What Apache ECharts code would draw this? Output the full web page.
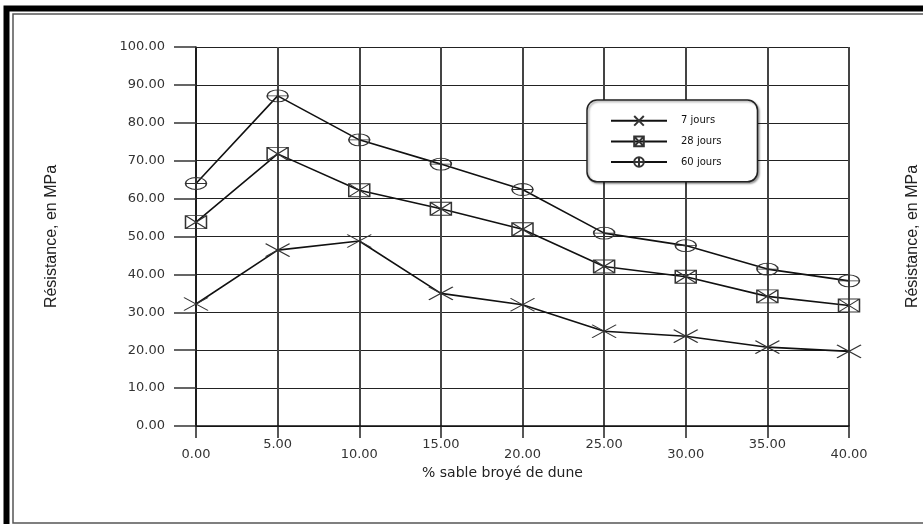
<!DOCTYPE html>
<html>
<head>
<meta charset="utf-8">
<script src="https://cdn.jsdelivr.net/npm/echarts@6/dist/echarts.min.js"></script>
<style>
html,body{margin:0;padding:0;background:#fff;}
#chart{width:923px;height:524px;}
</style>
</head>
<body>
<div id="chart"></div>
<script>
// Data
const xValues = [0, 5, 10, 15, 20, 25, 30, 35, 40];
const seriesNames = ['7 jours', '28 jours', '60 jours'];
const jours7 = [32.2, 46.4, 48.8, 35.0, 32.0, 25.0, 23.7, 20.8, 19.7];
const jours28 = [53.8, 71.8, 62.2, 57.3, 51.9, 42.1, 39.4, 34.2, 31.8];
const jours60 = [64.0, 87.1, 75.5, 69.1, 62.4, 50.9, 47.6, 41.4, 38.3];
const xAxisTitle = '% sable broyé de dune';
const yAxisTitle = 'Résistance, en MPa';

const symX = 'path://M0,0L10,10M10,0L0,10';
const symBoxX = 'path://M0,0L10,0L10,10L0,10Z M0,0L10,10 M10,0L0,10';
const symCircPlus = 'path://M0,5A5,5 0 1,1 10,5A5,5 0 1,1 0,5Z M0,5L10,5 M5,0L5,10';

function pairs(arr){ return xValues.map((x,i)=>[x, arr[i]]); }

const labelFont = 'DejaVu Sans';
const narrowFont = "'Liberation Sans Narrow', 'Liberation Sans', sans-serif";
const chart = echarts.init(document.getElementById('chart'), null, {renderer:'canvas'});

function mkSeries(name, data, symbol, size){
  return {
    name: name, type: 'line', data: pairs(data),
    symbol: symbol, symbolSize: size, showSymbol: true,
    lineStyle: {color: '#111', width: 1.6},
    itemStyle: {color: 'rgba(255,255,255,0)', borderColor: '#333', borderWidth: 1.2},
    emphasis: {disabled: true},
    z: 5
  };
}

chart.setOption({
  animation: false,
  backgroundColor: '#fff',
  grid: {left: 196, right: 74, top: 47, bottom: 98, outerBoundsMode: 'none', containLabel: false},
  legend: {
    orient: 'vertical',
    left: 587, top: 100,
    padding: [15, 36, 14, 23],
    itemWidth: 56, itemHeight: 12, itemGap: 9,
    backgroundColor: '#fff',
    borderColor: '#222', borderWidth: 1.5, borderRadius: 10,
    shadowColor: 'rgba(0,0,0,0.35)', shadowBlur: 2, shadowOffsetX: 1.5, shadowOffsetY: 1.5,
    textStyle: {fontFamily: labelFont, fontSize: 10, color: '#111', padding: [0,0,0,9]},
    data: seriesNames
  },
  xAxis: {
    type: 'value', min: 0, max: 40, interval: 5,
    name: xAxisTitle, nameLocation: 'middle', nameGap: 34,
    nameTextStyle: {fontFamily: labelFont, fontSize: 14, color: '#222', padding: [0, 40, 0, 0]},
    axisLine: {show: true, onZero: false, lineStyle: {color: '#111', width: 1.5}},
    axisTick: {show: true, length: 12, lineStyle: {color: '#222', width: 1.5}},
    axisLabel: {
      margin: 12,
      formatter: function(v, i){ return (i % 2 === 0 ? '{lo|' : '{hi|') + v.toFixed(2) + '}'; },
      rich: {
        lo: {fontFamily: labelFont, fontSize: 13, color: '#333', padding: [10,0,0,0]},
        hi: {fontFamily: labelFont, fontSize: 13, color: '#333'}
      }
    },
    splitLine: {show: true, lineStyle: {color: '#444', width: 2}}
  },
  yAxis: [{
    type: 'value', min: 0, max: 100, interval: 10,
    name: yAxisTitle, nameLocation: 'middle', nameGap: 136, nameRotate: 90,
    nameTextStyle: {fontFamily: narrowFont, fontSize: 16, color: '#222'},
    axisLine: {show: true, lineStyle: {color: '#111', width: 1.5}},
    axisTick: {show: true, length: 22, lineStyle: {color: '#333', width: 1.5}},
    axisLabel: {margin: 31, fontFamily: labelFont, fontSize: 13, color: '#333',
      formatter: function(v){ return v.toFixed(2); }},
    splitLine: {show: true, lineStyle: {color: '#222', width: 1.2}}
  }, {
    type: 'value', min: 0, max: 100, interval: 10, position: 'right',
    name: yAxisTitle, nameLocation: 'middle', nameGap: 56, nameRotate: 90,
    nameTextStyle: {fontFamily: narrowFont, fontSize: 16, color: '#222'},
    axisLine: {show: false}, axisTick: {show: false}, axisLabel: {show: false},
    splitLine: {show: false}
  }],
  graphic: [
    {type: 'rect', silent: true, z: 100,
     shape: {x: 6.5, y: 8.5, width: 1100, height: 700},
     style: {fill: 'none', stroke: '#000', lineWidth: 6}},
    {type: 'rect', silent: true, z: 100,
     shape: {x: 13, y: 14, width: 1100, height: 509},
     style: {fill: 'none', stroke: '#555', lineWidth: 1.5}}
  ],
  series: [
    mkSeries(seriesNames[0], jours7, symX, [24, 13]),
    mkSeries(seriesNames[1], jours28, symBoxX, [21, 13]),
    mkSeries(seriesNames[2], jours60, symCircPlus, [21, 12])
  ]
});
</script>
</body>
</html>
